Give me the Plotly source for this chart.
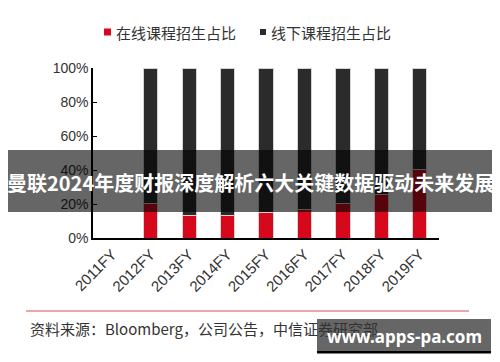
import plotly.graph_objects as go

categories = ["2011FY", "2012FY", "2013FY", "2014FY", "2015FY", "2016FY", "2017FY", "2018FY", "2019FY"]
online_share = [None, 20.4, 13.5, 13.0, 14.9, 16.5, 20.2, 25.3, 40.4]
offline_share = [None, 79.6, 86.5, 87.0, 85.1, 83.5, 79.8, 74.7, 59.6]
series_names = ["在线课程招生占比", "线下课程招生占比"]
series_colors = ["#d6081c", "#2b2b2b"]
y_ticks = [0, 20, 40, 60, 80, 100]
y_tick_labels = ["0%", "20%", "40%", "60%", "80%", "100%"]
source_text = "资料来源：Bloomberg，公司公告，中信证券研究部"
banner_text = "曼联2024年度财报深度解析六大关键数据驱动未来发展"
watermark_text = "www.apps-pa.com"

# page body has an 8px default margin; figure is placed at (8, 8)
OFF = 8
W, H = 500 - OFF, 362 - OFF
L, R, T, B = 93 - OFF, 61, 68 - OFF, 124
PW, PH = W - L - R, H - T - B


def px(x):
    return (x - OFF - L) / PW


def py(y):
    return (H - B - (y - OFF)) / PH


latin = "Liberation Sans, Arial, Noto Sans CJK SC"
cjk = "Noto Sans CJK SC, Liberation Sans"

fig = go.Figure()
for vals, name, col in zip([online_share, offline_share], series_names, series_colors):
    fig.add_trace(go.Bar(
        x=categories, y=vals, name=name, width=0.37,
        marker=dict(color=col, line=dict(color="#d4d4d4", width=1)),
        showlegend=False,
    ))

shapes = []
annotations = []
# legend
leg = [(104, series_names[0], series_colors[0], 7), (260, series_names[1], series_colors[1], 6)]
for x0, name, col, s in leg:
    shapes.append(dict(type="rect", xref="paper", yref="paper",
                       x0=px(x0), x1=px(x0 + s), y0=py(32 + s / 2), y1=py(32 - s / 2),
                       fillcolor=col, line=dict(width=0)))
    annotations.append(dict(text=name, xref="paper", yref="paper", x=px(x0 + s + 3), y=py(32),
                            xanchor="left", yanchor="middle", showarrow=False,
                            font=dict(family=cjk, size=15, color="#333333")))

# source line and text
shapes.append(dict(type="line", xref="paper", yref="paper", x0=px(26), x1=px(469), y0=py(311), y1=py(311),
                   line=dict(color="#e58a8a", width=1.5)))
annotations.append(dict(text=source_text, xref="paper", yref="paper", x=px(28), y=py(328),
                        xanchor="left", yanchor="middle", showarrow=False,
                        font=dict(family=cjk, size=15, color="#333333")))

# banner overlay
shapes.append(dict(type="rect", xref="paper", yref="paper", x0=px(6), x1=px(495), y0=py(212), y1=py(150),
                   fillcolor="rgba(0,0,0,0.6)", line=dict(width=0), layer="above"))
annotations.append(dict(text="<b>" + banner_text + "</b>", xref="paper", yref="paper", x=px(250), y=py(182),
                        xanchor="center", yanchor="middle", showarrow=False,
                        font=dict(family=cjk, size=20, color="white")))

# watermark
shapes.append(dict(type="rect", xref="paper", yref="paper", x0=px(317), x1=px(491), y0=py(351), y1=py(319),
                   fillcolor="rgba(0,0,0,0.6)", line=dict(width=0), layer="above"))
shapes.append(dict(type="rect", xref="paper", yref="paper", x0=px(317), x1=px(491), y0=py(353.5), y1=py(351),
                   fillcolor="black", line=dict(width=0), layer="above"))
annotations.append(dict(text="<b>" + watermark_text + "</b>", xref="paper", yref="paper", x=px(404), y=py(336),
                        xanchor="center", yanchor="middle", showarrow=False,
                        font=dict(family="Noto Sans, Open Sans", size=17, color="white")))

fig.update_layout(
    width=W, height=H, margin=dict(l=L, r=R, t=T, b=B, pad=0),
    barmode="stack", plot_bgcolor="white", paper_bgcolor="white",
    shapes=shapes, annotations=annotations,
    xaxis=dict(type="category", categoryorder="array", categoryarray=categories,
               range=[-0.5, 8.5], showline=True, linecolor="black", linewidth=1.5,
               ticks="", tickangle=-45, showgrid=False, automargin=False,
               tickfont=dict(family=latin, size=15, color="#333333")),
    yaxis=dict(range=[0, 100], tickmode="array", tickvals=y_ticks, ticktext=y_tick_labels,
               showline=True, linecolor="black", linewidth=1.5, ticks="inside", ticklen=4,
               tickcolor="black", showgrid=False, zeroline=False, automargin=False,
               tickfont=dict(family=latin, size=14, color="#333333")),
)

fig.write_html("out.html")
